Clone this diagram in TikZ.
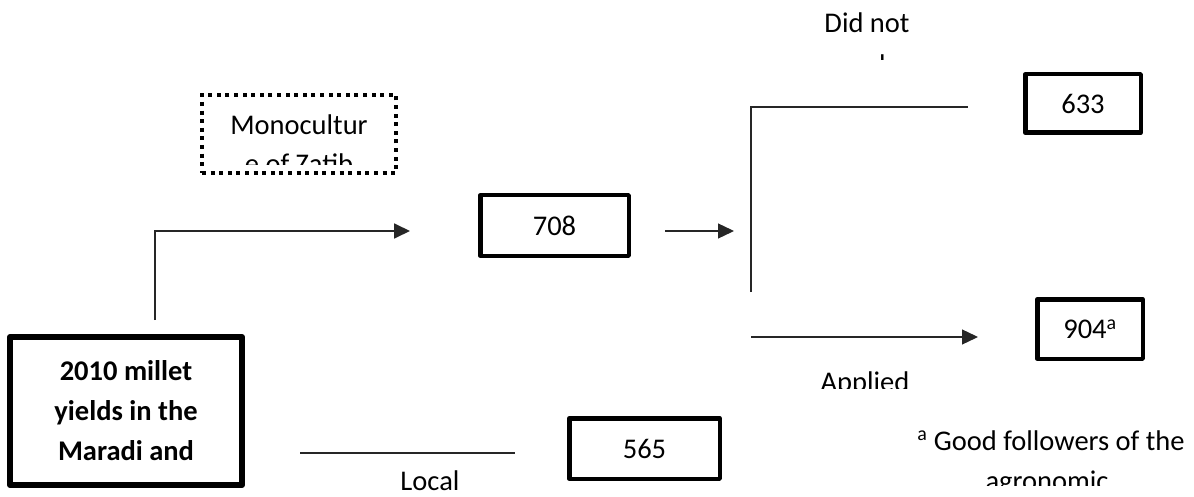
\documentclass[tikz,border=0pt]{standalone}
\usepackage{fontspec}
\setmainfont{Carlito}
\usetikzlibrary{arrows.meta}
\begin{document}
\begin{tikzpicture}[x=1pt,y=-1pt,
  txt/.style={font=\fontsize{28.5}{40}\selectfont, inner sep=0pt, text=black},
  numbox/.style={draw, line width=4.5pt, line join=round, txt},
  mainbox/.style={draw, line width=6pt, line join=round, align=center,
    font=\fontsize{28.5}{40}\selectfont\bfseries, inner sep=0pt},
  dotbox/.style={draw, line width=4pt, dash pattern=on 4pt off 4.6pt, inner sep=0pt},
  conn/.style={line width=1.3pt, draw=black!85},
  arr/.style={conn, -{Triangle[length=16pt,width=15pt]}},
]
\useasboundingbox (0,0) rectangle (1194,497);

% boxes
\node[mainbox, minimum width=232pt, minimum height=148pt] (main) at (126,411)
  {2010 millet\\yields in the\\Maradi and};
\node[numbox, minimum width=148.5pt, minimum height=60.5pt] (b708) at (554.5,225.5) {708};
\node[numbox, minimum width=115.5pt, minimum height=58.5pt] (b633) at (1083,103.5) {633};
\node[numbox, minimum width=105.5pt, minimum height=59.5pt] (b904) at (1090,329) {904\textsuperscript{a}};
\node[numbox, minimum width=150.5pt, minimum height=60.5pt] (b565) at (644.5,448.5) {565};
\node[dotbox, minimum width=194pt, minimum height=78pt] (mono) at (299,134) {};

% clipped texts
\begin{scope}
  \clip (204,97) rectangle (394,165);
  \node[txt, anchor=base] (monoA) at (299,135) {Monocultur};
  \node[txt, anchor=base] (monoB) at (299,174) {e of Zatib};
\end{scope}
\begin{scope}
  \clip (760,0) rectangle (980,60);
  \node[txt, anchor=base] (didA) at (867,33) {Did not};
  \node[txt, anchor=base] (didB) at (867,75) {apply};
\end{scope}
\begin{scope}
  \clip (760,360) rectangle (980,388);
  \node[txt, anchor=base] (appl) at (865,391) {Applied};
\end{scope}
\node[txt, anchor=base] (local) at (430,490) {Local};
\node[txt, anchor=base] (foot) at (1051,450) {\textsuperscript{a} Good followers of the};
\begin{scope}
  \clip (900,460) rectangle (1194,485);
  \node[txt, anchor=base] (agro) at (1047,490) {agronomic};
\end{scope}

% connectors
\coordinate (s1) at (155,320);
\coordinate (t1) at (410,231);
\coordinate (s2) at (665,231);
\coordinate (t2) at (734,231);
\coordinate (s3) at (751,292);
\coordinate (t3) at (968,107);
\coordinate (s4) at (751,337);
\coordinate (t4) at (978,337);
\coordinate (s5) at (300,453);
\coordinate (t5) at (515,453);

\draw[arr, line width=1.8pt] (s1) |- (t1);
\draw[arr] (s2) -- (t2);
\draw[conn] (s3) |- (t3);
\draw[arr] (s4) -- (t4);
\draw[conn] (s5) -- (t5);
\end{tikzpicture}
\end{document}
